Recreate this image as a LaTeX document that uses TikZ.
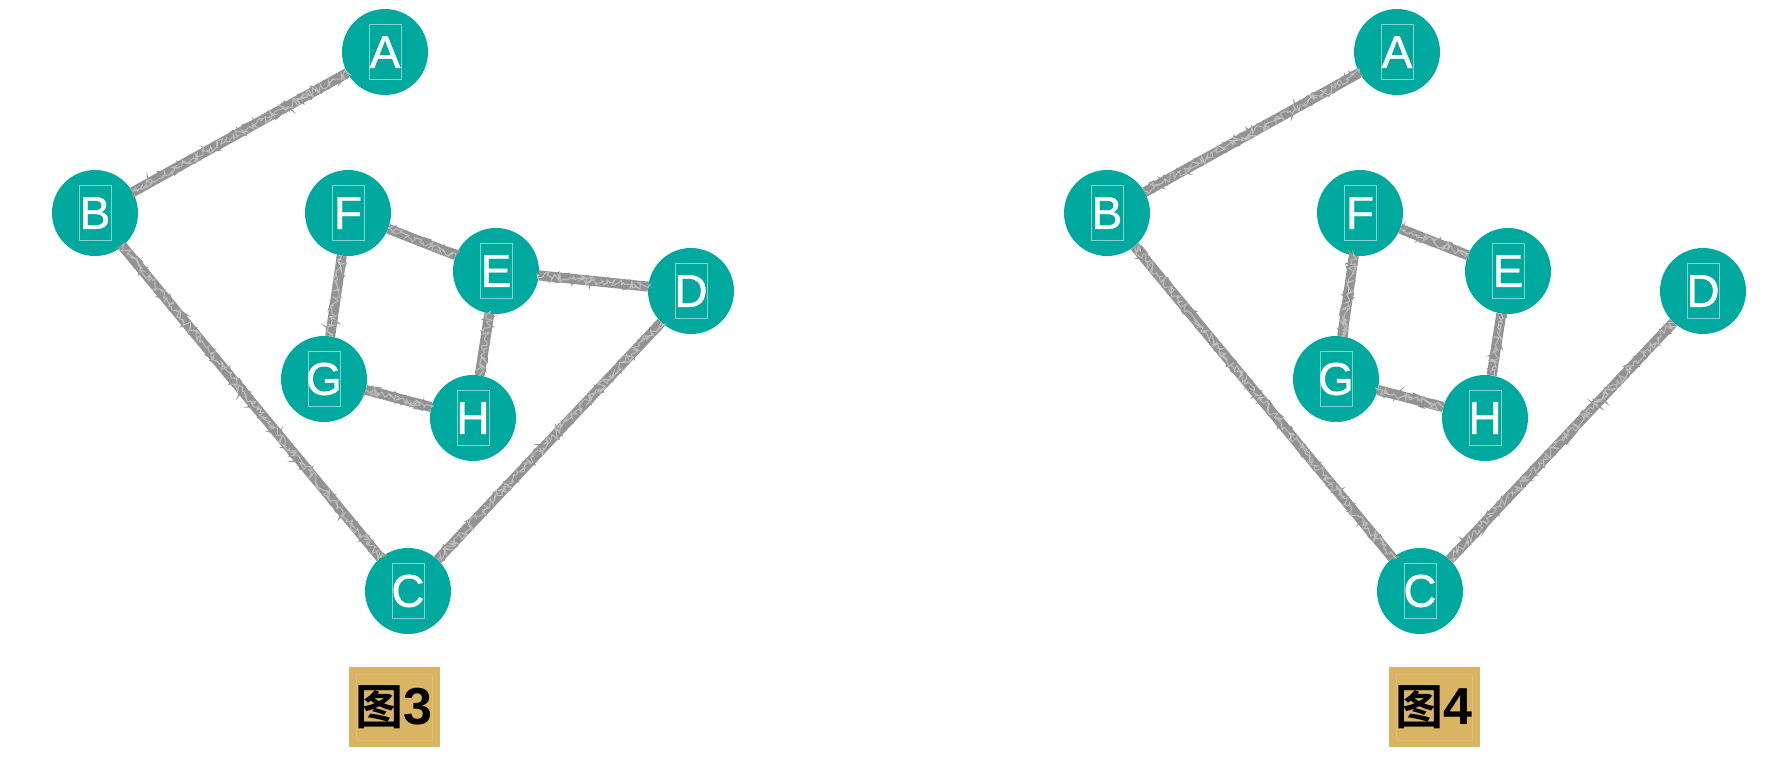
\documentclass[tikz,border=0pt]{standalone}
\usepackage{fontspec}
\setmainfont{Liberation Sans}
\newfontfamily\lblfont[FakeBold=0.8]{Liberation Sans}
\newfontfamily\cjk{Noto Sans CJK SC Bold}
\newfontfamily\digfont{Liberation Sans Bold}
\usetikzlibrary{decorations.pathmorphing}
\definecolor{teal1}{HTML}{00A99D}
\definecolor{boxc}{HTML}{7FD4CE}
\definecolor{tan1}{HTML}{D9B462}
\definecolor{tan2}{HTML}{DDBD72}
\definecolor{edgec}{HTML}{939393}
\tikzset{
  vtx/.style={circle, fill=teal1, minimum size=86pt, inner sep=0pt, text=white,
    font=\lblfont\fontsize{46}{46}\selectfont,
    path picture={\draw[boxc, line width=0.7pt] ([shift={(-16pt,-27.5pt)}]path picture bounding box.center) rectangle ([shift={(16pt,27.5pt)}]path picture bounding box.center);}},
  edgbase/.style={draw=edgec, line width=10pt},
  edgrough/.style={draw=edgec, line width=1.5pt, decorate, decoration={random steps, segment length=2pt, amplitude=5.5pt}},
  edgrough2/.style={draw=edgec!60!white, line width=1pt, decorate, decoration={random steps, segment length=1.6pt, amplitude=4pt}},
  capbox/.style={fill=tan1, minimum width=91pt, minimum height=80pt, inner sep=0pt,
    font=\fontsize{48}{48}\selectfont,
    path picture={\draw[tan2, line width=1pt] ([shift={(-38pt,-33pt)}]path picture bounding box.center) rectangle ([shift={(38pt,33pt)}]path picture bounding box.center);}}
}
\newcommand\roughedge[2]{%
  \path[edgbase] (#1) -- (#2);
  \path[edgrough] (#1) -- (#2);
  \path[edgrough2] (#1) -- (#2);
}
\begin{document}
\begin{tikzpicture}[x=1pt,y=-1pt]
\pgfmathsetseed{7}
\useasboundingbox (0,0) rectangle (1780,774);
% left graph
\node[vtx] (A) at (385,52) {A};
\node[vtx] (B) at (95,213) {B};
\node[vtx] (F) at (348,213) {F};
\node[vtx] (E) at (496,271) {E};
\node[vtx] (D) at (691,291) {D};
\node[vtx] (G) at (324,379) {G};
\node[vtx] (H) at (473,418) {H};
\node[vtx] (C) at (408,591) {C};
% right graph
\node[vtx] (A2) at (1397,52) {A};
\node[vtx] (B2) at (1107,213) {B};
\node[vtx] (F2) at (1360,213) {F};
\node[vtx] (E2) at (1508,271) {E};
\node[vtx] (D2) at (1703,291) {D};
\node[vtx] (G2) at (1336,379) {G};
\node[vtx] (H2) at (1485,418) {H};
\node[vtx] (C2) at (1420,591) {C};
% edges
\roughedge{A}{B}
\roughedge{B}{C}
\roughedge{C}{D}
\roughedge{D}{E}
\roughedge{E}{F}
\roughedge{F}{G}
\roughedge{G}{H}
\roughedge{H}{E}
\roughedge{A2}{B2}
\roughedge{B2}{C2}
\roughedge{C2}{D2}
\roughedge{E2}{F2}
\roughedge{F2}{G2}
\roughedge{G2}{H2}
\roughedge{H2}{E2}
% captions
\node[capbox] (L3) at (394,707) {{\cjk 图}{\digfont\fontsize{52}{52}\selectfont 3}};
\node[capbox] (L4) at (1434,707) {{\cjk 图}{\digfont\fontsize{52}{52}\selectfont 4}};
\end{tikzpicture}
\end{document}
